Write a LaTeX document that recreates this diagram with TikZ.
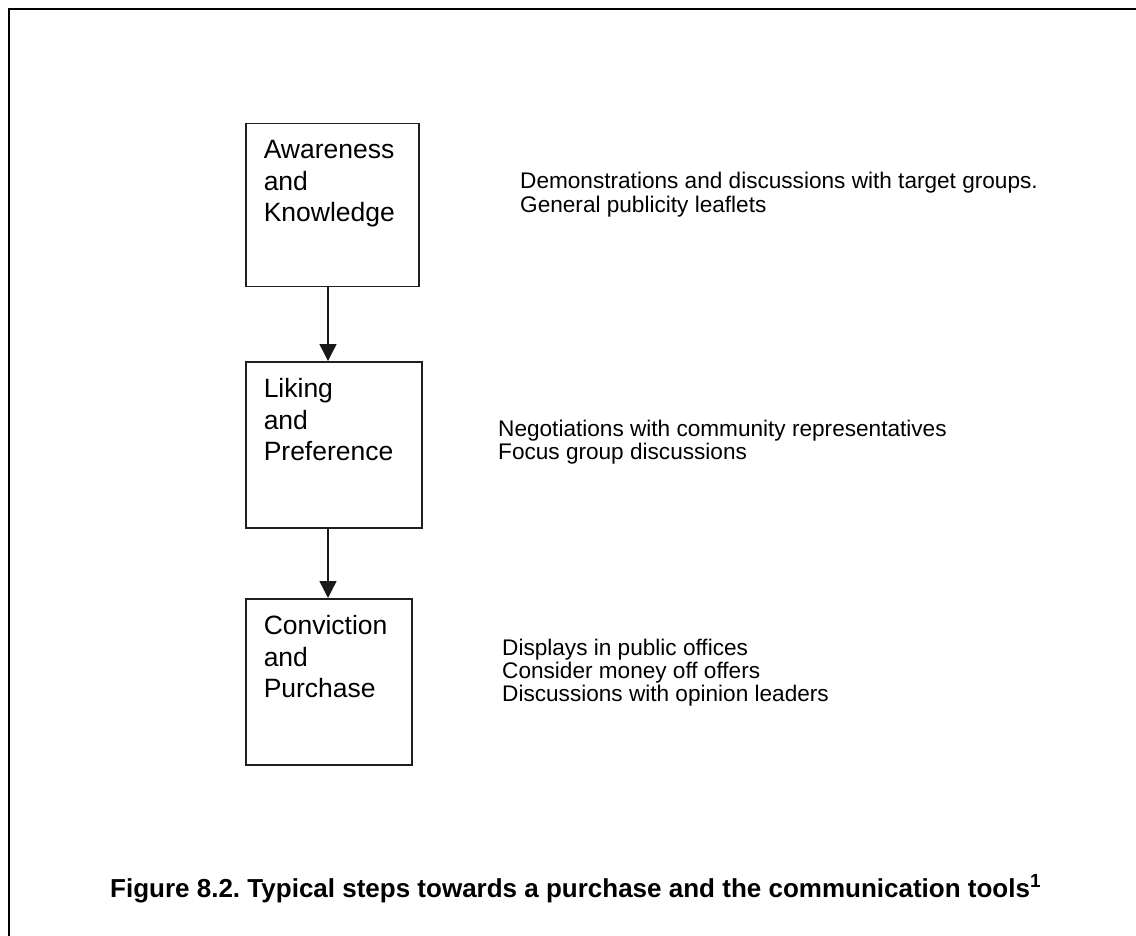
\documentclass[tikz,border=0pt]{standalone}
\usepackage{fontspec}
\setmainfont{Liberation Sans}
\usetikzlibrary{arrows.meta}
\frenchspacing
\newcommand\stepbody[3]{\parbox[b][#2][t]{#1}{\leftskip=18pt\relax\fontsize{26.5}{31.5}\selectfont\vspace*{17pt}#3\par}}
\newcommand\notelines[1]{\fontsize{22.6}{23}\selectfont\begin{tabular}[t]{@{}l@{}}#1\end{tabular}}
\newcommand\capsup[1]{\raisebox{10pt}{\fontsize{19}{20}\selectfont #1}}
\tikzset{
  stepbox/.style={draw=black!88, line width=1.5pt, anchor=north west, inner sep=0pt},
  flowarrow/.style={draw=black!90, line width=1.4pt, -{Triangle[length=17pt,width=17pt]}},
  notetext/.style={anchor=base west, inner sep=0pt},
  frameline/.style={line width=2.6pt, line join=miter}
}
\begin{document}
\begin{tikzpicture}[x=1pt,y=-1pt]
\useasboundingbox (0,0) rectangle (1136,936);
\draw[frameline] (9,936) -- (9,9) -- (1136,9);

\node[stepbox] (b1) at (245,123) {\stepbody{173pt}{163pt}{Awareness\\and\\Knowledge}};
\node[stepbox] (b2) at (245,361) {\stepbody{176pt}{166pt}{Liking\\and\\Preference}};
\node[stepbox] (b3) at (245,598) {\stepbody{166pt}{166pt}{Conviction\\and\\Purchase}};

\draw[flowarrow] ([xshift=83pt]b1.south west) -- ([xshift=83pt]b2.north west);
\draw[flowarrow] ([xshift=83pt]b2.south west) -- ([xshift=83pt]b3.north west);

\node[notetext] (t1) at (520,189) {\notelines{Demonstrations and discussions with target groups.\\General publicity leaflets}};
\node[notetext] (t2) at (498,436) {\notelines{Negotiations with community representatives\\Focus group discussions}};
\node[notetext] (t3) at (502,655) {\notelines{Displays in public offices\\Consider money off offers\\Discussions with opinion leaders}};

\node[notetext, font=\bfseries\fontsize{26}{30}\selectfont] (cap) at (110,897) {Figure 8.2. Typical steps towards a purchase and the communication tools\capsup{1}};
\end{tikzpicture}
\end{document}
